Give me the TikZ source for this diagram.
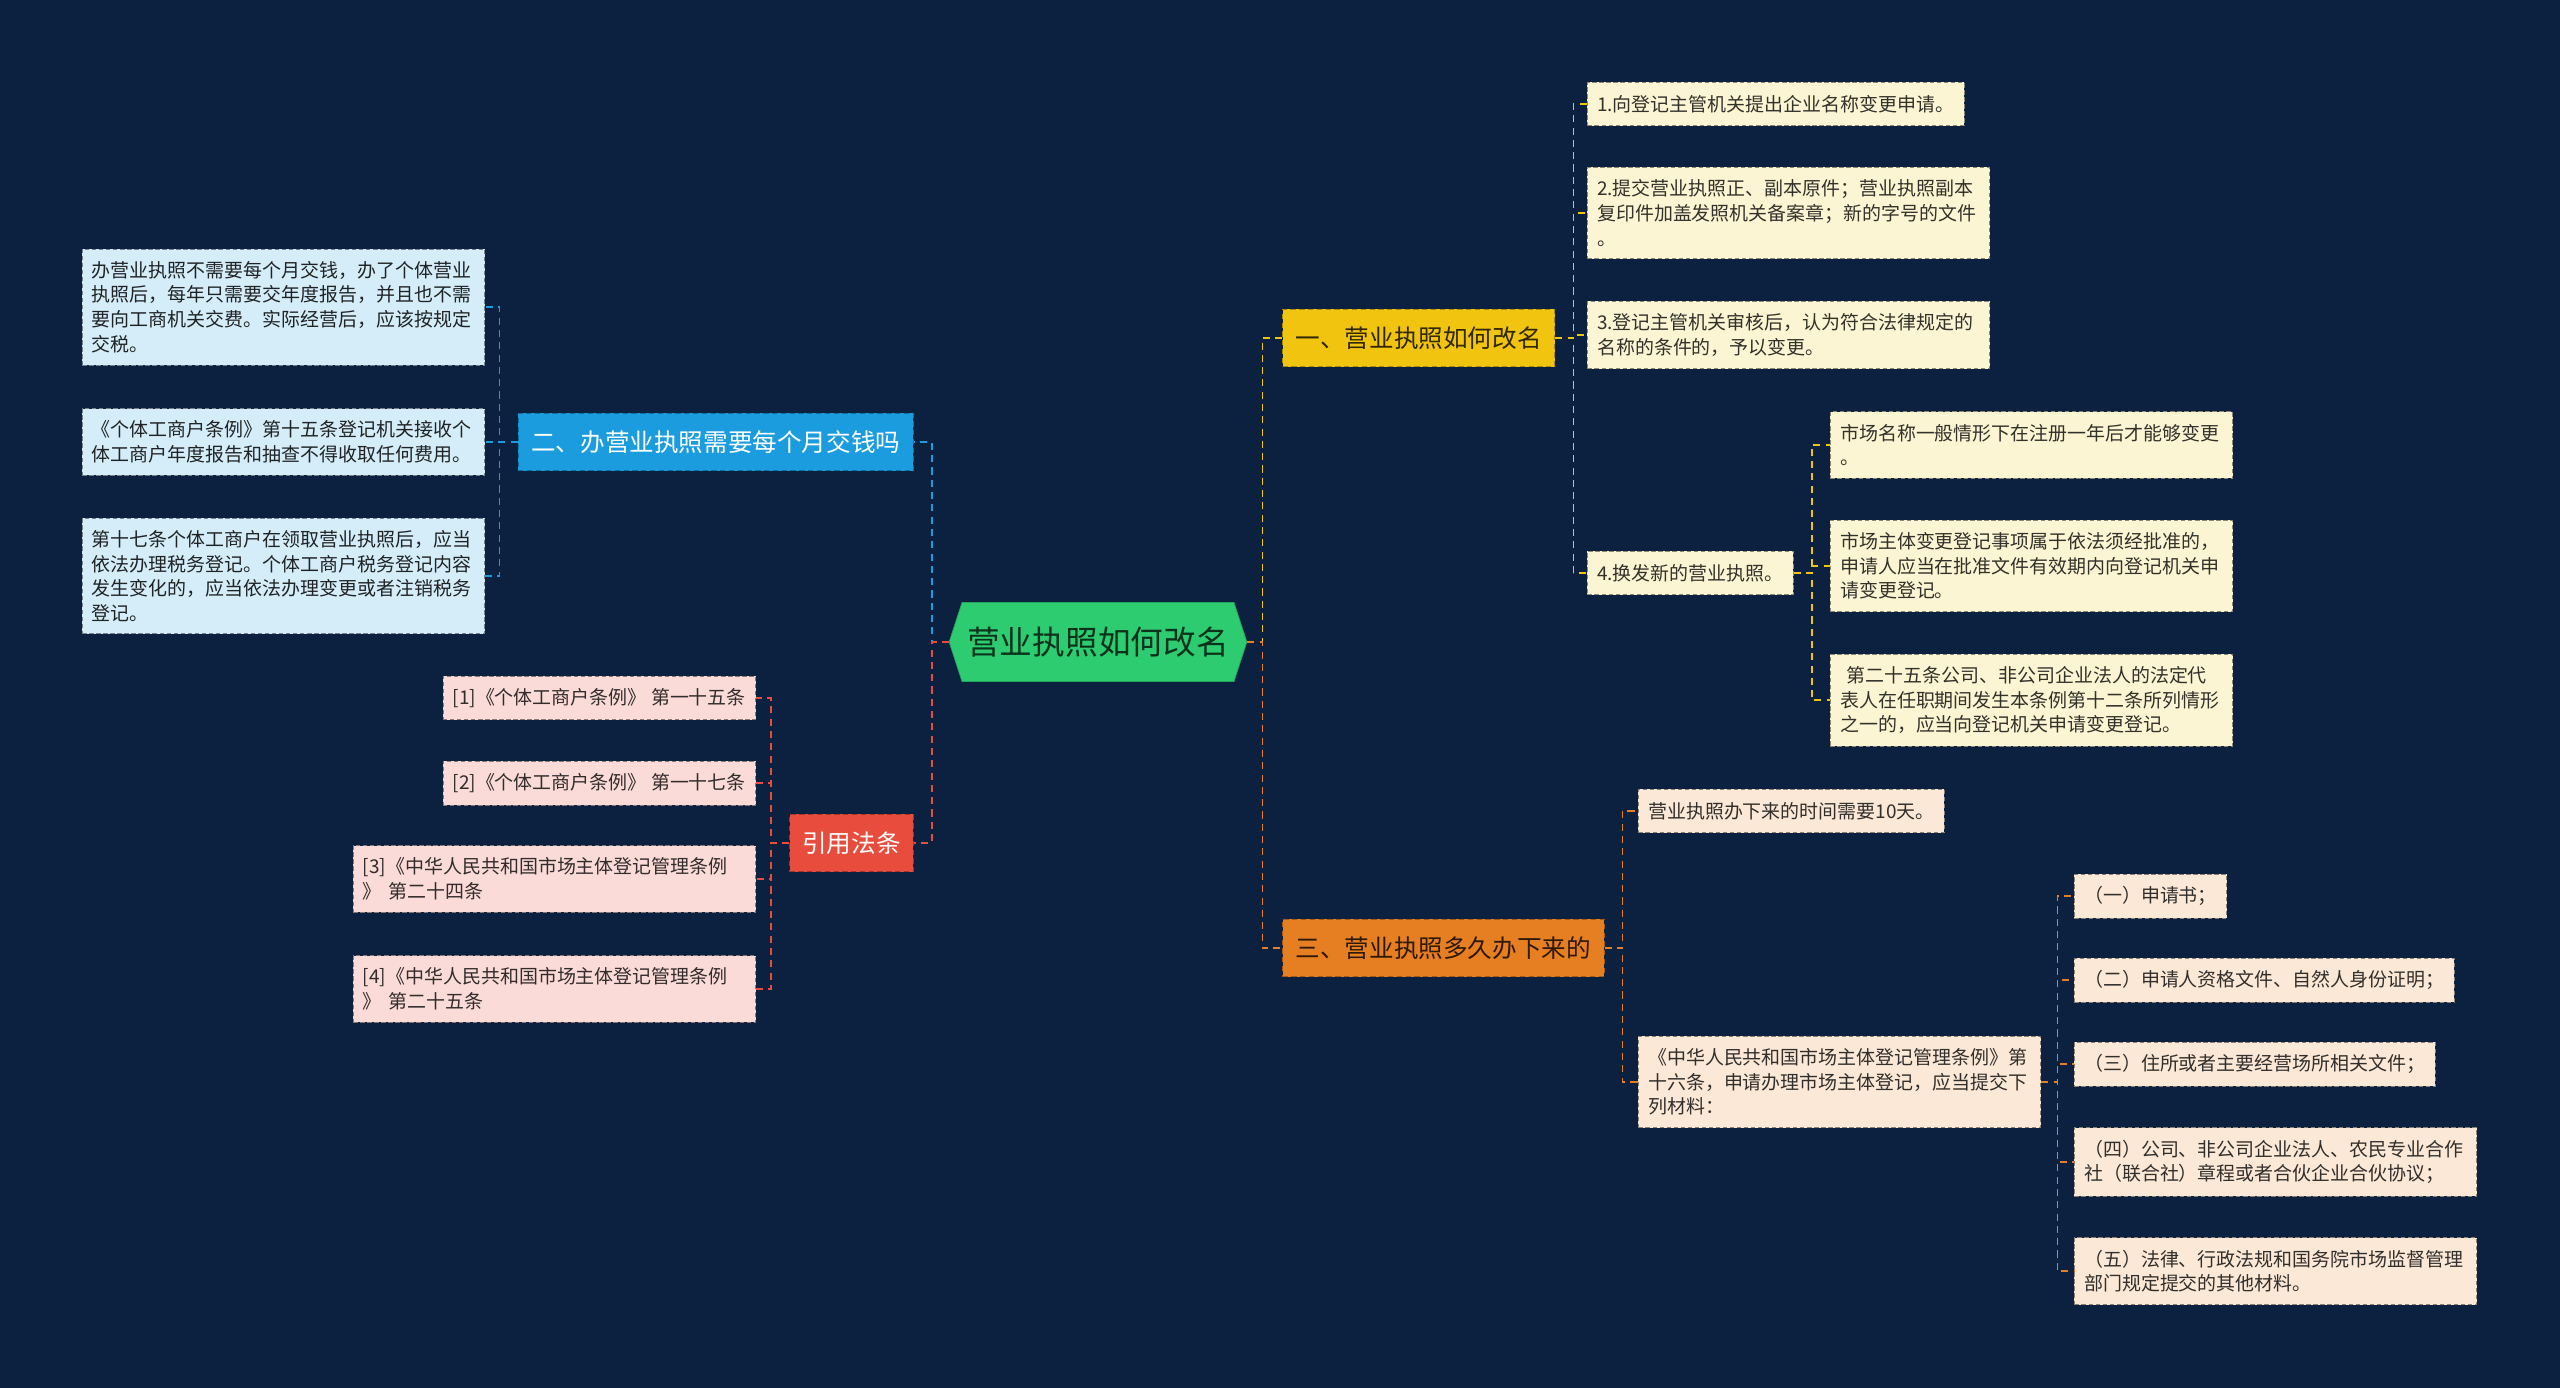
\documentclass[tikz,border=0pt]{standalone}
\usepackage{fontspec}
\setmainfont{Noto Sans CJK SC}
\usetikzlibrary{shapes.symbols}

\definecolor{bgnavy}{HTML}{0B213F}
\definecolor{rootgreen}{HTML}{2ECC71}
\definecolor{brYellow}{HTML}{F1C40F}
\definecolor{brOrange}{HTML}{E67E22}
\definecolor{brBlue}{HTML}{1B9CDF}
\definecolor{brRed}{HTML}{E74C3C}
\definecolor{lfYellow}{HTML}{FCF5D3}
\definecolor{lfOrange}{HTML}{FBE8D6}
\definecolor{lfBlue}{HTML}{D4EDF9}
\definecolor{lfRed}{HTML}{FADBD8}

\begin{document}
\begin{tikzpicture}[x=0.02cm, y=-0.02cm,
    con/.style={draw=#1, line width=0.8pt, dash pattern=on 4pt off 3pt},
    root/.style={signal, signal to=east and west, signal pointer angle=144,
        fill=rootgreen, draw=rootgreen!80!black, text=rootgreen!25!black,
        font=\fontsize{18.6}{22}\selectfont, minimum height=45pt, inner xsep=3pt},
    branch/.style={fill=#1, draw=#1!70!black, dash pattern=on 3pt off 2pt, line width=0.6pt,
        font=\fontsize{14}{17}\selectfont, minimum height=32.5pt, inner xsep=6pt},
    leaf/.style 2 args={fill=#1, draw=#1!55!black, text=#2, dash pattern=on 2.5pt off 1.5pt,
        line width=0.5pt, font=\fontsize{10.8}{14}\selectfont, align=left,
        inner xsep=5.5pt, inner ysep=7pt, minimum height=24.5pt},
    wide/.style={text width=218pt}
]
\fill[bgnavy] (0,0) rectangle (2560,1388);

% centre
\node[root] (root) at (1098,642) {营业执照如何改名};

% main branches
\node[branch=brYellow, text=brYellow!20!black, minimum width=155pt, anchor=west] (rename) at (1282,338) {一、营业执照如何改名};
\node[branch=brOrange, text=brOrange!20!black, minimum width=183pt, anchor=west] (duration) at (1282,948) {三、营业执照多久办下来的};
\node[branch=brBlue, text=white, minimum width=225pt, anchor=east] (monthly) at (914,442) {二、办营业执照需要每个月交钱吗};
\node[branch=brRed, text=white, minimum width=70.5pt, anchor=east] (laws) at (914,843) {引用法条};

% rename steps
\node[leaf={lfYellow}{lfYellow!20!black}, anchor=west] (rn1) at (1587,104) {1.向登记主管机关提出企业名称变更申请。};
\node[leaf={lfYellow}{lfYellow!20!black}, wide, anchor=west] (rn2) at (1587,213) {2.提交营业执照正、副本原件；营业执照副本\\复印件加盖发照机关备案章；新的字号的文件\\。};
\node[leaf={lfYellow}{lfYellow!20!black}, wide, anchor=west] (rn3) at (1587,335) {3.登记主管机关审核后，认为符合法律规定的\\名称的条件的，予以变更。};
\node[leaf={lfYellow}{lfYellow!20!black}, anchor=west] (rn4) at (1587,573) {4.换发新的营业执照。};
\node[leaf={lfYellow}{lfYellow!20!black}, wide, anchor=west] (rn4a) at (1830,445) {市场名称一般情形下在注册一年后才能够变更\\。};
\node[leaf={lfYellow}{lfYellow!20!black}, wide, anchor=west] (rn4b) at (1830,566) {市场主体变更登记事项属于依法须经批准的，\\申请人应当在批准文件有效期内向登记机关申\\请变更登记。};
\node[leaf={lfYellow}{lfYellow!20!black}, wide, anchor=west] (rn4c) at (1830,700) {~第二十五条公司、非公司企业法人的法定代\\表人在任职期间发生本条例第十二条所列情形\\之一的，应当向登记机关申请变更登记。};

% duration
\node[leaf={lfOrange}{lfOrange!20!black}, anchor=west] (dur1) at (1638,811) {营业执照办下来的时间需要10天。};
\node[leaf={lfOrange}{lfOrange!20!black}, wide, anchor=west] (dur2) at (1638,1082) {《中华人民共和国市场主体登记管理条例》第\\十六条，申请办理市场主体登记，应当提交下\\列材料：};
\node[leaf={lfOrange}{lfOrange!20!black}, anchor=west] (mat1) at (2074,896) {（一）申请书；};
\node[leaf={lfOrange}{lfOrange!20!black}, anchor=west] (mat2) at (2074,980) {（二）申请人资格文件、自然人身份证明；};
\node[leaf={lfOrange}{lfOrange!20!black}, anchor=west] (mat3) at (2074,1064) {（三）住所或者主要经营场所相关文件；};
\node[leaf={lfOrange}{lfOrange!20!black}, wide, anchor=west] (mat4) at (2074,1162) {（四）公司、非公司企业法人、农民专业合作\\社（联合社）章程或者合伙企业合伙协议；};
\node[leaf={lfOrange}{lfOrange!20!black}, wide, anchor=west] (mat5) at (2074,1271) {（五）法律、行政法规和国务院市场监督管理\\部门规定提交的其他材料。};

% monthly fee
\node[leaf={lfBlue}{lfBlue!15!black}, wide, anchor=east] (fee1) at (485,307) {办营业执照不需要每个月交钱，办了个体营业\\执照后，每年只需要交年度报告，并且也不需\\要向工商机关交费。实际经营后，应该按规定\\交税。};
\node[leaf={lfBlue}{lfBlue!15!black}, wide, anchor=east] (fee2) at (485,442) {《个体工商户条例》第十五条登记机关接收个\\体工商户年度报告和抽查不得收取任何费用。};
\node[leaf={lfBlue}{lfBlue!15!black}, wide, anchor=east] (fee3) at (485,576) {第十七条个体工商户在领取营业执照后，应当\\依法办理税务登记。个体工商户税务登记内容\\发生变化的，应当依法办理变更或者注销税务\\登记。};

% laws
\node[leaf={lfRed}{lfRed!20!black}, anchor=east] (law1) at (756,698) {[1]《个体工商户条例》 第一十五条};
\node[leaf={lfRed}{lfRed!20!black}, anchor=east] (law2) at (756,783) {[2]《个体工商户条例》 第一十七条};
\node[leaf={lfRed}{lfRed!20!black}, wide, anchor=east] (law3) at (756,879) {[3]《中华人民共和国市场主体登记管理条例\\》 第二十四条};
\node[leaf={lfRed}{lfRed!20!black}, wide, anchor=east] (law4) at (756,989) {[4]《中华人民共和国市场主体登记管理条例\\》 第二十五条};

% connectors
\draw[con=brYellow] (root.east) -- ++(15,0) |- (rename.west);
\draw[con=brOrange] (root.east) -- ++(15,0) |- (duration.west);
\draw[con=brBlue] (root.west) -- ++(-17,0) |- (monthly.east);
\draw[con=brRed] (root.west) -- ++(-17,0) |- (laws.east);
\foreach \n in {rn1,rn2,rn3,rn4}
    \draw[con=brYellow] (rename.east) -- ++(18,0) |- (\n.west);
\foreach \n in {rn4a,rn4b,rn4c}
    \draw[con=brYellow] (rn4.east) -- ++(18,0) |- (\n.west);
\foreach \n in {dur1,dur2}
    \draw[con=brOrange] (duration.east) -- ++(18,0) |- (\n.west);
\foreach \n in {mat1,mat2,mat3,mat4,mat5}
    \draw[con=brOrange] (dur2.east) -- ++(16,0) |- (\n.west);
\foreach \n in {fee1,fee2,fee3}
    \draw[con=brBlue] (monthly.west) -- ++(-18,0) |- (\n.east);
\foreach \n in {law1,law2,law3,law4}
    \draw[con=brRed] (laws.west) -- ++(-18,0) |- (\n.east);
\end{tikzpicture}
\end{document}
